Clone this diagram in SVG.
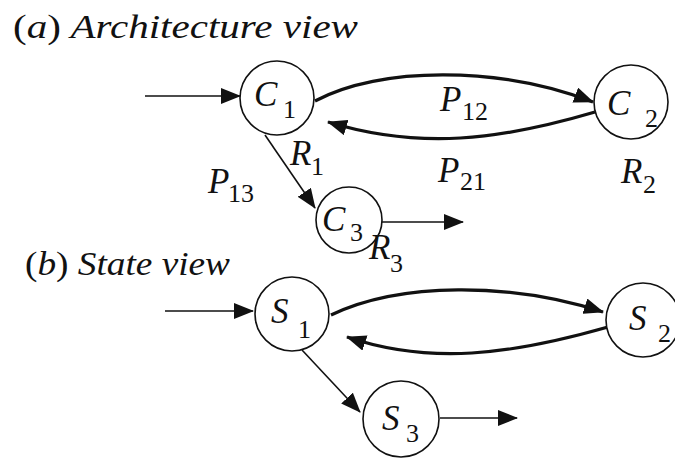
<svg xmlns="http://www.w3.org/2000/svg" width="675" height="459" viewBox="0 0 675 459">
<style>
.node circle{fill:#fff;stroke:#111;stroke-width:1.6}
.thin{fill:none;stroke:#111;stroke-width:1.6}
.thick{fill:none;stroke:#111;stroke-width:3.2}
</style>
<defs>
<marker id="ah" markerUnits="userSpaceOnUse" markerWidth="20" markerHeight="16" refX="19" refY="8" orient="auto">
<path d="M0,0 L20,8 L0,16 z" fill="#111"/>
</marker>
</defs>
<text x="13" y="38" font-family="Liberation Serif" font-size="33" font-style="italic" fill="#111" textLength="345" lengthAdjust="spacingAndGlyphs"><tspan font-style="normal">(</tspan>a<tspan font-style="normal">)</tspan> Architecture view</text>
<text x="25" y="275" font-family="Liberation Serif" font-size="33" font-style="italic" fill="#111" textLength="205" lengthAdjust="spacingAndGlyphs"><tspan font-style="normal">(</tspan>b<tspan font-style="normal">)</tspan> State view</text>
<g id="connectors">
<path class="thin" d="M145 96 L240 96" marker-end="url(#ah)"/>
<path class="thin" d="M265 135 L315 208" marker-end="url(#ah)"/>
<path class="thin" d="M382 222 L463 222" marker-end="url(#ah)"/>
<path class="thick" d="M315 101 C380 66, 500 66, 593 102" marker-end="url(#ah)"/>
<path class="thick" d="M595 112 C500 140, 420 150, 328 122" marker-end="url(#ah)"/>
<path class="thin" d="M165 311 L253 311" marker-end="url(#ah)"/>
<path class="thin" d="M302 350 L360 412" marker-end="url(#ah)"/>
<path class="thin" d="M440 418 L517 418" marker-end="url(#ah)"/>
<path class="thick" d="M331 315 C400 282, 510 282, 603 312" marker-end="url(#ah)"/>
<path class="thick" d="M608 327 C510 355, 430 365, 347 337" marker-end="url(#ah)"/>
</g>
<g id="C1" class="node"><circle cx="277" cy="98" r="37"/><text x="254" y="106" font-family="Liberation Serif" font-size="35" font-style="italic" fill="#111">C</text><text x="283" y="118" font-family="Liberation Serif" font-size="26" fill="#111">1</text></g>
<g id="C2" class="node"><circle cx="631" cy="102" r="37"/><text x="607" y="115" font-family="Liberation Serif" font-size="35" font-style="italic" fill="#111">C</text><text x="645" y="127" font-family="Liberation Serif" font-size="26" fill="#111">2</text></g>
<g id="C3" class="node"><circle cx="349" cy="220" r="33"/><text x="322" y="231" font-family="Liberation Serif" font-size="35" font-style="italic" fill="#111">C</text><text x="350" y="241" font-family="Liberation Serif" font-size="26" fill="#111">3</text></g>
<g id="S1" class="node"><circle cx="292" cy="314" r="37"/><text x="271" y="323" font-family="Liberation Serif" font-size="35" font-style="italic" fill="#111">S</text><text x="298" y="338" font-family="Liberation Serif" font-size="26" fill="#111">1</text></g>
<g id="S2" class="node"><circle cx="643" cy="320" r="37"/><text x="629" y="330" font-family="Liberation Serif" font-size="35" font-style="italic" fill="#111">S</text><text x="658" y="342" font-family="Liberation Serif" font-size="26" fill="#111">2</text></g>
<g id="S3" class="node"><circle cx="401" cy="419" r="38"/><text x="382" y="430" font-family="Liberation Serif" font-size="35" font-style="italic" fill="#111">S</text><text x="406" y="442" font-family="Liberation Serif" font-size="26" fill="#111">3</text></g>
<g id="labels" font-family="Liberation Serif" fill="#111">
<text x="440" y="111" font-family="Liberation Serif" font-size="35" font-style="italic">P</text><text x="462" y="120" font-family="Liberation Serif" font-size="26">12</text>
<text x="438" y="182" font-family="Liberation Serif" font-size="35" font-style="italic">P</text><text x="460" y="190" font-family="Liberation Serif" font-size="26">21</text>
<text x="621" y="183" font-family="Liberation Serif" font-size="35" font-style="italic">R</text><text x="643" y="193" font-family="Liberation Serif" font-size="26">2</text>
<text x="290" y="165" font-family="Liberation Serif" font-size="35" font-style="italic">R</text><text x="311" y="175" font-family="Liberation Serif" font-size="26">1</text>
<text x="208" y="193" font-family="Liberation Serif" font-size="35" font-style="italic">P</text><text x="228" y="202" font-family="Liberation Serif" font-size="26">13</text>
<text x="369" y="259" font-family="Liberation Serif" font-size="35" font-style="italic">R</text><text x="390" y="272" font-family="Liberation Serif" font-size="26">3</text>
</g>
</svg>
